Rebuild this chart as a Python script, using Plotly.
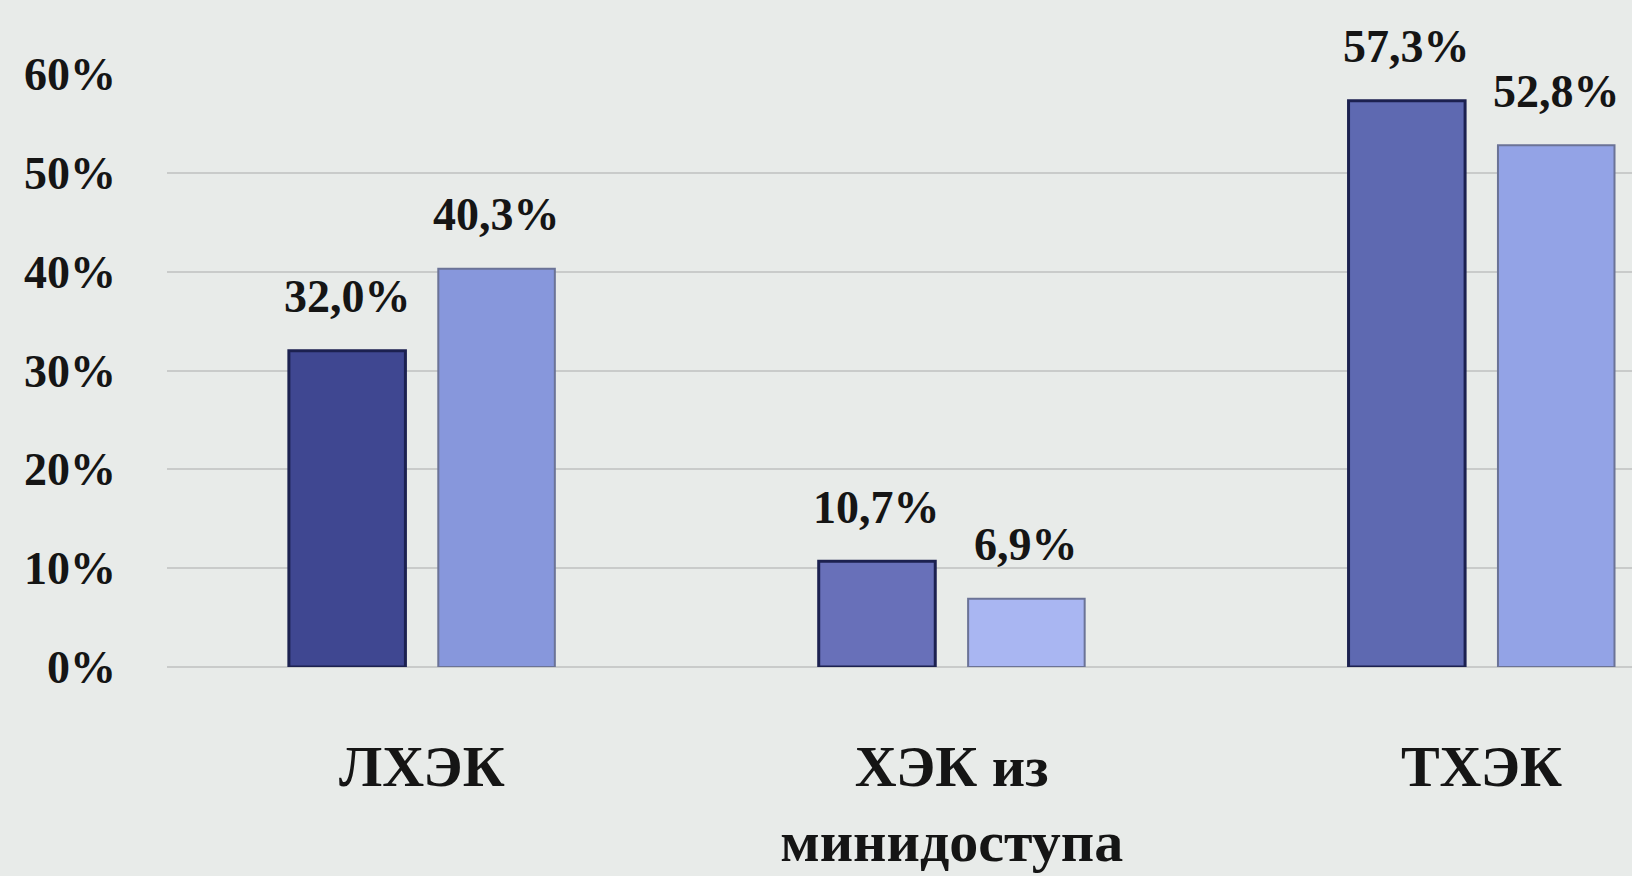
import plotly.graph_objects as go

# Share of cases by operation type, two comparison groups
categories = ["ЛХЭК", "ХЭК из<br>минидоступа", "ТХЭК"]
group_a = [32.0, 10.7, 57.3]
group_b = [40.3, 6.9, 52.8]
y_ticks = [0, 10, 20, 30, 40, 50, 60]
y_tick_labels = ["0%", "10%", "20%", "30%", "40%", "50%", "60%"]

dark_fills = ["#3f4791", "#6870b9", "#5e69b1"]
light_fills = ["#8797dc", "#a9b6f2", "#93a3e6"]

serif = "Liberation Serif, Times New Roman, serif"
ink = "#151515"

fig = go.Figure()
fig.add_trace(go.Bar(
    x=categories, y=group_a, name="A",
    marker=dict(color=dark_fills, line=dict(color="#1c2150", width=3)),
))
fig.add_trace(go.Bar(
    x=categories, y=group_b, name="B",
    marker=dict(color=light_fills, line=dict(color="#6b7396", width=2)),
))

# value labels above each bar (slot half-width matches bargap/bargroupgap below)
slot = (1 - 0.436) / 2
for j, series in enumerate([group_a, group_b]):
    off = (j - 0.5) * slot
    for i, v in enumerate(series):
        fig.add_annotation(
            x=i + off, y=v, xref="x", yref="y",
            text=f"{v:.1f}%".replace(".", ","),
            showarrow=False, yshift=54, yanchor="middle",
            font=dict(family=serif, size=46, color=ink, weight="bold"),
        )

fig.update_layout(
    width=1632, height=876,
    margin=dict(l=167, r=0, t=74, b=209),
    paper_bgcolor="#e8ebe9", plot_bgcolor="#e8ebe9",
    barmode="group", bargap=0.436, bargroupgap=0.22,
    showlegend=False,
    font=dict(family=serif, color=ink),
)
fig.update_xaxes(
    type="category", range=[-0.481, 2.284],
    showgrid=False, showline=False, ticks="",
    tickfont=dict(family=serif, size=58, color=ink, weight="bold"),
    ticklabelstandoff=60,
)
fig.update_yaxes(
    range=[0, 60], tickvals=y_ticks, ticktext=y_tick_labels,
    showgrid=True, gridcolor="#c9cbca", gridwidth=2,
    zeroline=True, zerolinecolor="#c9cbca", zerolinewidth=2,
    tickfont=dict(family=serif, size=46, color=ink, weight="bold"),
    ticklabelstandoff=50,
)

fig.write_html("out.html")
